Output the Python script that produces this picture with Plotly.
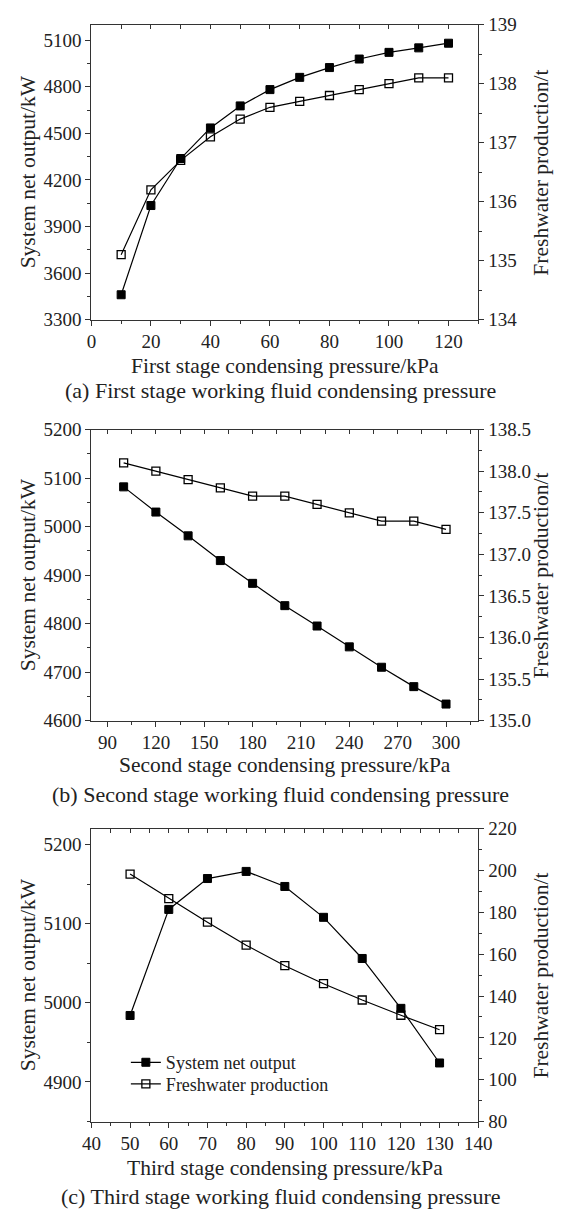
import plotly.graph_objects as go

# ---------------- data ----------------
p1_x = [10, 20, 30, 40, 50, 60, 70, 80, 90, 100, 110, 120]
p1_power = [3460, 4035, 4338, 4535, 4677, 4782, 4861, 4924, 4979, 5022, 5051, 5081]
p1_water = [135.1, 136.2, 136.7, 137.1, 137.4, 137.6, 137.7, 137.8, 137.9, 138.0, 138.1, 138.1]

p2_x = [100, 120, 140, 160, 180, 200, 220, 240, 260, 280, 300]
p2_power = [5082, 5030, 4981, 4930, 4883, 4837, 4795, 4752, 4710, 4670, 4634]
p2_water = [138.1, 138.0, 137.9, 137.8, 137.7, 137.7, 137.6, 137.5, 137.4, 137.4, 137.3]

p3_x = [50, 60, 70, 80, 90, 100, 110, 120, 130]
p3_power = [4984, 5118, 5157, 5166, 5147, 5108, 5056, 4993, 4924]
p3_water = [198.3, 186.6, 175.3, 164.3, 154.5, 145.9, 138.1, 130.8, 123.9]

x_titles = ["First stage condensing pressure/kPa",
            "Second stage condensing pressure/kPa",
            "Third stage condensing pressure/kPa"]
captions = ["(a) First stage working fluid condensing pressure",
            "(b) Second stage working fluid condensing pressure",
            "(c) Third stage working fluid condensing pressure"]
left_title = "System net output/kW"
right_title = "Freshwater production/t"
series_names = ["System net output", "Freshwater production"]

# ---------------- layout helpers ----------------
W, H = 566, 1221
FONT = "Liberation Serif, Times New Roman, serif"
TICK_FS = 19
TITLE_FS = 21.5
CAP_FS = 22
LEG_FS = 18
LC = "#333333"
TXT = "#222222"

def py(pix):
    return 1 - pix / H

XL, XR = 85, 489
xdom = [XL / W, XR / W]
panels = [
    dict(top=15, bot=315, xr=[0, 130], xd=20, xm=10,
         yl=[3300, 5200], yld=300, ylm=150, ylt0=3300,
         yr=[134, 139], yrd=1, yrm=0.5, tfmt=None, xt=362, cap=387),
    dict(top=427, bot=723, xr=[80, 320], xd=30, xm=15,
         yl=[4600, 5200], yld=100, ylm=50, ylt0=4600,
         yr=[135, 138.5], yrd=0.5, yrm=0.25, tfmt=".1f", xt=768, cap=798),
    dict(top=833, bot=1131, xr=[40, 140], xd=10, xm=5,
         yl=[4850, 5220], yld=100, ylm=50, ylt0=4900,
         yr=[80, 220], yrd=20, yrm=10, tfmt=None, xt=1178, cap=1207),
]
data = [(p1_x, p1_power, p1_water), (p2_x, p2_power, p2_water), (p3_x, p3_power, p3_water)]

fig = go.Figure()
layout = dict(width=W, height=H, margin=dict(l=0, r=0, t=0, b=0),
              paper_bgcolor="white", plot_bgcolor="white",
              font=dict(family=FONT, size=TICK_FS, color=TXT),
              showlegend=True, annotations=[])

def ann(text, x, y, size, angle=0):
    return dict(text=text, x=x / W, y=py(y), xref="paper", yref="paper",
                showarrow=False, xanchor="center", yanchor="middle",
                textangle=angle, font=dict(size=size, family=FONT, color=TXT))

for i, (p, (xs, pw, fw)) in enumerate(zip(panels, data)):
    xa = "x" if i == 0 else f"x{i + 1}"
    xtop = f"x{i + 4}"
    yl = "y" if i == 0 else f"y{2 * i + 1}"
    yr = f"y{2 * i + 2}"
    ydom = [py(p["bot"]), py(p["top"])]

    fig.add_trace(go.Scatter(
        x=xs, y=pw, mode="lines+markers", name=series_names[0],
        xaxis=xa, yaxis=yl,
        line=dict(color="black", width=1.2),
        marker=dict(symbol="square", size=8, color="black", line=dict(color="black", width=1)),
        showlegend=(i == 2), legend="legend"))
    fig.add_trace(go.Scatter(
        x=xs, y=fw, mode="lines+markers", name=series_names[1],
        xaxis=xa, yaxis=yr,
        line=dict(color="black", width=1.2),
        marker=dict(symbol="square-open", size=8, color="black", line=dict(color="black", width=1.3)),
        showlegend=(i == 2), legend="legend2"))
    # invisible trace so that the top (inside-tick) x axis gets drawn
    fig.add_trace(go.Scatter(x=[p["xr"][0]], y=[p["yl"][0]], mode="markers",
                             marker=dict(opacity=0), xaxis=xtop, yaxis=yl,
                             showlegend=False, hoverinfo="skip"))

    xkey = "xaxis" if i == 0 else f"xaxis{i + 1}"
    ylkey = "yaxis" if i == 0 else f"yaxis{2 * i + 1}"
    yrkey = f"yaxis{2 * i + 2}"
    layout[xkey] = dict(domain=xdom, anchor=yl, range=p["xr"], dtick=p["xd"], tick0=0,
                        showline=True, linecolor=LC, linewidth=1.2,
                        ticks="outside", ticklen=5, tickwidth=1.2, tickcolor=LC,
                        minor=dict(dtick=p["xm"], ticks="outside", ticklen=3, tickcolor=LC),
                        showgrid=False, zeroline=False,
                        tickfont=dict(size=TICK_FS))
    layout[f"xaxis{i + 4}"] = dict(domain=xdom, anchor=yl, overlaying=xa, side="top",
                                   range=p["xr"], dtick=p["xm"], tick0=0,
                                   showline=True, linecolor=LC, linewidth=1.2,
                                   ticks="inside", ticklen=4, tickwidth=1.2, tickcolor=LC,
                                   showticklabels=False, showgrid=False, zeroline=False)
    layout[ylkey] = dict(domain=ydom, anchor=xa, range=p["yl"], dtick=p["yld"], tick0=p["ylt0"],
                         showline=True, linecolor=LC, linewidth=1.2,
                         ticks="outside", ticklen=5, tickwidth=1.2, tickcolor=LC,
                         minor=dict(dtick=p["ylm"], ticks="outside", ticklen=3, tickcolor=LC),
                         showgrid=False, zeroline=False, tickfont=dict(size=TICK_FS))
    layout[yrkey] = dict(domain=ydom, anchor=xa, overlaying=yl, side="right",
                         range=p["yr"], dtick=p["yrd"], tick0=p["yr"][0],
                         tickformat=p["tfmt"],
                         showline=True, linecolor=LC, linewidth=1.2,
                         ticks="outside", ticklen=5, tickwidth=1.2, tickcolor=LC,
                         minor=dict(dtick=p["yrm"], ticks="outside", ticklen=3, tickcolor=LC),
                         showgrid=False, zeroline=False, tickfont=dict(size=TICK_FS))
    mid = 0.5 * (p["top"] + p["bot"])
    layout["annotations"] += [
        ann(x_titles[i], 0.5 * (XL + XR), p["xt"], TITLE_FS),
        ann(captions[i], 0.5 * (XL + XR) - 5, p["cap"], CAP_FS),
        ann(left_title, 19, mid, TITLE_FS, -90),
        ann(right_title, 555, mid, TITLE_FS, -90),
    ]

leg_common = dict(xanchor="left", yanchor="middle", bgcolor="rgba(0,0,0,0)",
                  font=dict(size=LEG_FS, family=FONT, color=TXT), itemwidth=30)
layout["legend"] = dict(x=121 / W, y=py(1071), **leg_common)
layout["legend2"] = dict(x=121 / W, y=py(1093), **leg_common)
fig.update_layout(**layout)
fig.write_html("out.html")
